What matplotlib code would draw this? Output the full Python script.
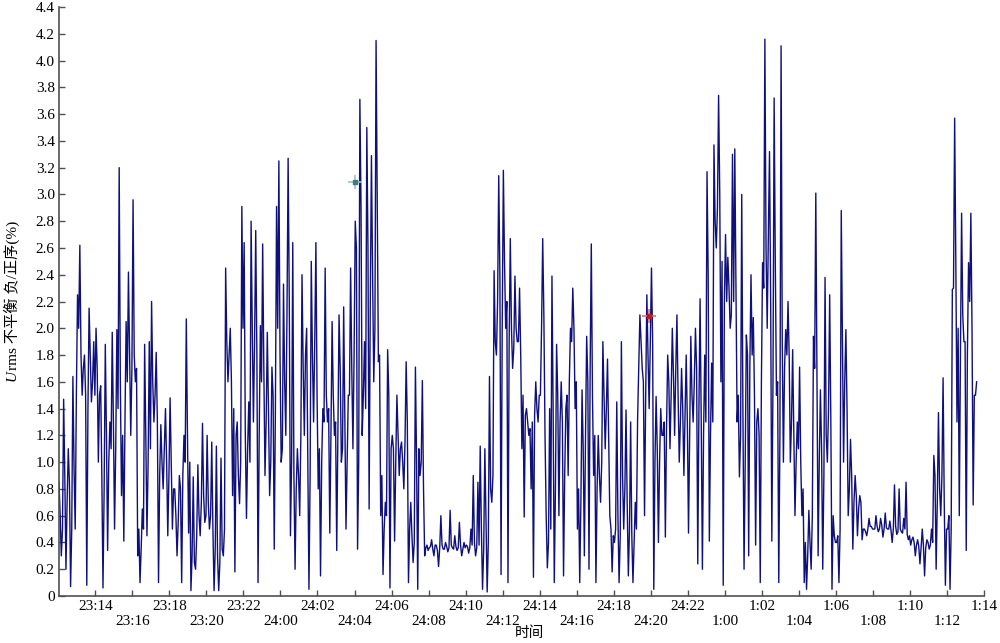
import numpy as np
import matplotlib
matplotlib.use('Agg')
from matplotlib import pyplot as plt

# x axis: one tick every 2 minutes, labels alternate between two rows
tick_labels = ['23:14', '23:16', '23:18', '23:20', '23:22', '24:00', '24:02',
               '24:04', '24:06', '24:08', '24:10', '24:12', '24:14', '24:16',
               '24:18', '24:20', '24:22', '1:00', '1:02', '1:04', '1:06',
               '1:08', '1:10', '1:12', '1:14']

# Urms unbalance (%), 16 readings per tick interval.
# "part" = spike readings, "core" = readings inside the dark band between them
part_a = [0.85, 0.3, 1.47, 0.2, 1.1, 0.07, 1.64, 0.5, 2.25, 2.62, 1.5, 1.8, 0.08, 2.15, 1.45, 1.9,
          2.0, 1.0, 1.57, 0.06, 1.88, 0.34, 1.3, 1.97, 0.5, 1.99, 3.2, 0.75, 0.41, 2.05, 2.42, 1.2,
          2.96, 1.6, 0.3, 0.1, 0.65, 1.88, 0.45, 1.9, 2.2, 1.3, 1.82, 0.1, 1.28, 0.8, 1.4, 0.45,
          1.48, 0.5, 0.8, 0.3, 0.9, 0.1, 1.2, 2.07, 0.47, 0.04, 0.89, 0.2, 0.98, 0.45, 1.29, 0.55,
          1.2, 0.5, 1.15, 0.04, 1.12, 0.04, 1.03, 0.3, 2.45, 1.6, 2.0, 0.75, 0.18, 1.3, 0.69, 2.91]
core_a = [0.6, 0.5, 0.9, 0.7, 0.85, 0.5, 0.95, 1.5, 2.0, 1.8, 1.7, 1.5, 1.4, 1.8, 1.6, 1.5,
          1.7, 1.5, 0.9, 0.8, 1.2, 1.0, 1.1, 1.3, 1.1, 1.4, 1.6, 1.2, 1.3, 1.6, 1.8, 1.7,
          1.8, 1.7, 0.5, 0.35, 0.5, 1.2, 1.0, 1.1, 1.6, 1.5, 1.3, 0.9, 1.0, 1.1, 1.0, 0.9,
          1.0, 0.8, 0.6, 0.55, 0.8, 0.9, 1.0, 1.2, 1.0, 0.3, 0.25, 0.45, 0.6, 0.7, 0.75, 0.6,
          0.7, 0.6, 0.5, 0.35, 0.3, 0.25, 0.35, 0.5, 1.9, 1.8, 1.6, 1.4, 1.2, 0.9, 1.0, 2.0]

part_b = [2.64, 0.58, 1.45, 2.8, 1.3, 2.73, 0.1, 2.02, 2.63, 0.9, 1.97, 0.75, 1.71, 0.35, 2.91, 3.25,
          1.0, 2.33, 1.2, 3.27, 0.45, 2.64, 0.2, 1.1, 0.6, 2.4, 1.2, 2.0, 0.05, 2.5, 1.3, 2.64,
          0.8, 0.15, 1.4, 2.45, 1.3, 0.47, 2.05, 1.2, 0.34, 2.1, 1.0, 2.16, 0.5, 1.5, 2.45, 1.1,
          2.8, 0.35, 3.71, 1.2, 1.9, 3.5, 0.65, 3.29, 1.6, 4.15, 1.75, 0.6, 0.16, 0.7, 1.84, 0.06,
          1.2, 0.41, 1.5, 0.9, 1.15, 0.8, 1.75, 0.1, 0.7, 0.25, 1.71, 0.05, 0.9, 1.61, 0.3, 0.38]
core_b = [1.2, 1.1, 1.0, 2.0, 1.9, 1.8, 1.2, 1.6, 1.7, 1.3, 1.4, 1.0, 1.5, 1.4, 2.0, 1.8,
          1.1, 1.6, 2.1, 2.2, 1.0, 0.9, 0.8, 0.9, 1.2, 1.7, 1.8, 1.0, 0.9, 1.8, 1.9, 1.5,
          1.1, 1.0, 1.3, 1.5, 1.4, 1.2, 1.5, 1.3, 1.2, 1.7, 1.1, 1.3, 1.0, 1.5, 1.7, 1.8,
          2.6, 1.0, 2.9, 1.5, 1.4, 2.6, 2.2, 2.4, 2.0, 2.9, 1.8, 0.9, 0.5, 0.6, 1.5, 1.1,
          1.1, 1.0, 1.2, 1.1, 1.0, 1.15, 1.3, 0.5, 0.45, 0.4, 1.0, 1.1, 1.0, 0.8, 0.36, 0.34]

part_c = [0.36, 0.42, 0.3, 0.38, 0.22, 0.6, 0.35, 0.4, 0.33, 0.64, 0.36, 0.45, 0.34, 0.55, 0.3, 0.4,
          0.38, 0.32, 0.5, 0.9, 0.3, 0.85, 1.12, 0.05, 1.1, 0.03, 1.64, 0.7, 2.43, 1.8, 3.14, 0.16,
          3.18, 2.0, 0.1, 2.67, 1.7, 2.39, 1.9, 2.3, 1.1, 0.59, 1.4, 1.2, 0.8, 0.14, 1.6, 1.3,
          1.5, 2.67, 1.2, 0.21, 1.4, 2.39, 0.1, 1.88, 0.6, 1.6, 0.15, 1.4, 0.9, 2.0, 2.3, 1.4,
          0.5, 0.1, 1.54, 0.3, 1.94, 0.2, 2.63, 0.9, 0.1, 1.2, 0.7, 1.9, 1.1, 1.77, 0.6, 0.18]
core_c = [0.37, 0.35, 0.38, 0.34, 0.36, 0.38, 0.35, 0.37, 0.36, 0.38, 0.35, 0.37, 0.36, 0.38, 0.35, 0.36,
          0.37, 0.36, 0.38, 0.4, 0.36, 0.38, 0.5, 0.35, 0.55, 0.4, 0.8, 0.9, 1.9, 2.2, 2.4, 2.0,
          2.5, 2.2, 1.9, 2.0, 1.85, 2.0, 1.9, 1.8, 1.5, 1.35, 1.3, 1.25, 1.3, 1.35, 1.4, 1.5,
          2.0, 2.1, 0.6, 0.4, 0.5, 1.4, 0.8, 1.5, 1.3, 1.3, 0.9, 1.5, 1.6, 1.9, 2.0, 1.6,
          0.8, 0.7, 1.1, 1.2, 1.6, 1.7, 1.5, 1.2, 0.8, 0.9, 1.0, 1.5, 1.4, 1.2, 0.5, 0.45]

part_d = [0.4, 1.45, 0.1, 1.9, 0.5, 1.39, 0.15, 1.3, 0.1, 0.7, 1.32, 2.1, 1.7, 0.6, 2.25, 1.4,
          2.45, 0.05, 1.49, 0.4, 1.4, 1.2, 0.44, 1.8, 1.1, 2.0, 1.2, 2.1, 1.0, 1.7, 0.9, 1.8,
          0.47, 1.94, 1.3, 2.0, 0.24, 2.22, 0.2, 1.8, 3.17, 0.41, 1.74, 3.37, 2.6, 3.74, 1.6, 0.08,
          2.7, 2.53, 2.0, 3.3, 3.34, 1.3, 0.89, 3.0, 0.2, 1.95, 0.3, 2.4, 2.08, 0.38, 1.4, 0.1,
          2.49, 4.16, 2.0, 3.32, 0.41, 3.72, 1.5, 0.1, 4.11, 1.0, 1.99, 2.2, 1.0, 1.84, 0.6, 1.3]
core_d = [0.5, 0.6, 0.45, 0.9, 0.8, 0.7, 0.5, 0.45, 0.4, 0.5, 1.7, 1.9, 1.6, 1.5, 1.8, 1.9,
          1.9, 1.0, 1.1, 1.0, 1.2, 1.3, 1.25, 1.6, 1.5, 1.65, 1.7, 1.5, 1.3, 1.4, 1.35, 1.3,
          1.2, 1.5, 1.6, 1.7, 1.4, 1.3, 1.2, 1.3, 2.4, 1.2, 1.3, 2.8, 2.9, 3.0, 2.5, 2.2,
          2.2, 2.3, 2.1, 2.2, 2.3, 1.5, 1.2, 1.4, 1.0, 1.8, 1.7, 1.8, 1.5, 1.3, 1.2, 1.6,
          2.3, 2.6, 2.7, 2.2, 1.6, 2.5, 1.6, 1.2, 1.9, 1.7, 1.8, 1.8, 1.3, 1.2, 1.0, 1.1]

part_e = [1.71, 0.6, 0.1, 0.05, 0.64, 0.2, 1.94, 3.01, 0.3, 1.54, 0.2, 2.38, 1.0, 2.25, 0.05, 0.45,
          0.4, 0.1, 2.88, 1.0, 1.99, 0.6, 1.17, 0.35, 0.9, 0.45, 0.75, 0.42, 0.5, 0.45, 0.58, 0.52,
          0.5, 0.6, 0.48, 0.58, 0.44, 0.62, 0.5, 0.56, 0.4, 0.83, 0.46, 0.8, 0.48, 0.58, 0.85, 0.42,
          0.38, 0.44, 0.3, 0.42, 0.24, 0.5, 0.15, 0.42, 0.35, 0.5, 1.05, 0.2, 1.37, 0.6, 1.63, 0.08,
          0.5, 0.05, 2.29, 3.57, 1.3, 0.6, 2.86, 1.9, 0.34, 2.49, 2.86, 0.68, 1.5]
core_e = [1.0, 0.8, 0.4, 0.3, 0.4, 0.6, 1.7, 1.6, 1.0, 1.1, 0.9, 1.2, 1.4, 1.3, 0.6, 0.4,
          0.45, 0.5, 1.9, 1.6, 1.4, 0.8, 0.9, 0.7, 0.75, 0.65, 0.7, 0.5, 0.48, 0.5, 0.52, 0.5,
          0.5, 0.52, 0.5, 0.53, 0.5, 0.51, 0.5, 0.49, 0.5, 0.52, 0.48, 0.5, 0.47, 0.5, 0.46, 0.45,
          0.42, 0.4, 0.38, 0.37, 0.36, 0.38, 0.36, 0.4, 0.38, 0.4, 0.9, 0.7, 0.8, 0.9, 0.7, 0.5,
          0.6, 0.5, 2.3, 2.5, 2.0, 1.8, 2.1, 1.9, 1.8, 2.2, 2.0, 1.5, 1.6]

# two cursor markers
mark_x = [8.01, 15.94]
mark_y = [3.09, 2.095]

spikes = part_a + part_b + part_c + part_d + part_e
cores = core_a + core_b + core_c + core_d + core_e
# alternate spike reading / band reading, in time order
urms = np.array([v for pair in zip(spikes, cores) for v in pair])
t = 0.02 + np.arange(len(urms)) / 32.0

plt.rcParams['font.family'] = ['Liberation Serif', 'Noto Sans CJK SC']
plt.rcParams['font.size'] = 11

fig = plt.figure(figsize=(10, 6.43), dpi=100)
ax = fig.add_axes([0.059, 0.0731, 0.925, 0.916])

ax.plot(t, urms, color='#10107c', lw=1.0)

# cursors
ax.plot(mark_x[0], mark_y[0], marker='+', ms=10, mew=1.2, color='#a3c0c4')
ax.plot(mark_x[0], mark_y[0], marker='s', ms=3.5, color='#3d7a8a')
ax.plot(mark_x[1], mark_y[1], marker='+', ms=10, mew=1.2, color='#e07070')
ax.plot(mark_x[1], mark_y[1], marker='s', ms=3.5, color='#c01818')

ax.set_xlim(0.0197, 25)
ax.set_ylim(0, 4.4)

yt = np.arange(0, 4.41, 0.2)
ax.set_yticks(yt)
ax.set_yticklabels(['0'] + ['%.1f' % v for v in yt[1:]])

# upper row on majors, lower row on minors
pos = np.arange(1, len(tick_labels) + 1)
ax.set_xticks(pos[0::2])
ax.set_xticklabels(tick_labels[0::2])
ax.set_xticks(pos[1::2], minor=True)
ax.set_xticklabels(tick_labels[1::2], minor=True)

for s in ['top', 'right']:
    ax.spines[s].set_visible(False)
for s in ['left', 'bottom']:
    ax.spines[s].set_color('#505050')
    ax.spines[s].set_linewidth(1.2)

ax.tick_params(axis='both', which='both', direction='in', length=4, width=1,
               color='#505050', labelcolor='black')
ax.tick_params(axis='x', which='major', pad=3)
ax.tick_params(axis='x', which='minor', pad=14)
ax.tick_params(axis='y', pad=3)

# y label: italic U then the rest
fig.text(0.012, 0.4246, 'rms 不平衡 负/正序(%)', rotation=90, ha='center', va='bottom')
fig.text(0.012, 0.4246, 'U', rotation=90, ha='center', va='top', style='italic')
fig.text(0.529, 0.0156, '时间', ha='center', va='center', fontsize=10.5)

fig.savefig('out.png', dpi=100)
